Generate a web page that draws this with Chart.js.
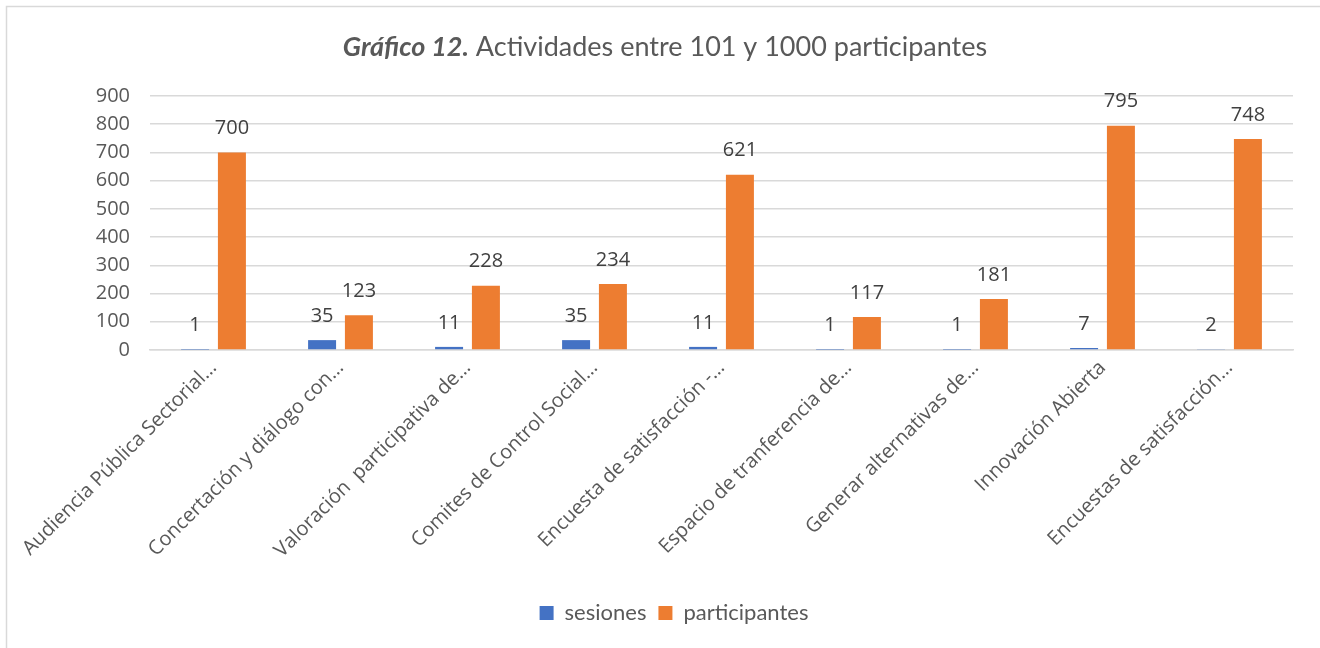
<!DOCTYPE html>
<html>
<head>
<meta charset="utf-8">
<script src="https://cdn.jsdelivr.net/npm/chart.js@4.4.1/dist/chart.umd.min.js"></script>
<style>
  html, body { margin: 0; padding: 0; background: #fff; }
  #wrap { position: relative; width: 1320px; height: 648px; }
</style>
</head>
<body>
<div id="wrap"><canvas id="grafico12"></canvas></div>
<script>
const categorias = [
    'Audiencia Pública Sectorial…',
    'Concertación y diálogo con…',
    'Valoración  participativa de…',
    'Comites de Control Social…',
    'Encuesta de satisfacción -…',
    'Espacio de tranferencia de…',
    'Generar alternativas de…',
    'Innovación Abierta',
    'Encuestas de satisfacción…'
];
const sesiones      = [1, 35, 11, 35, 11, 1, 1, 7, 2];
const participantes = [700, 123, 228, 234, 621, 117, 181, 795, 748];
const tituloNegrita = 'Gráfico 12.';
const tituloResto   = ' Actividades entre 101 y 1000 participantes';

const grisTexto = '#595959';

// marco gris alrededor del gráfico + título con dos estilos
const marcoYTitulo = {
    id: 'marcoYTitulo',
    beforeDraw(chart) {
        const c = chart.ctx;
        c.save();
        c.fillStyle = '#fff';
        c.fillRect(0, 0, chart.width, chart.height);
        c.strokeStyle = '#d9d9d9';
        c.lineWidth = 1.5;
        c.strokeRect(6.5, 6.5, chart.width + 10, chart.height + 10);
        c.restore();
    },
    afterDraw(chart) {
        const c = chart.ctx;
        c.save();
        c.fillStyle = grisTexto;
        c.textBaseline = 'middle';
        const fB = 'italic bold 27px Lato';
        const fN = '27px Lato';
        c.font = fB;
        const w1 = c.measureText(tituloNegrita).width;
        c.font = fN;
        const w2 = c.measureText(tituloResto).width;
        let x = 665 - (w1 + w2) / 2;
        c.textAlign = 'left';
        c.font = fB;
        c.fillText(tituloNegrita, x, 47);
        c.font = fN;
        c.fillText(tituloResto, x + w1, 47);
        c.restore();
    }
};

// valores encima de cada barra
const etiquetasValor = {
    id: 'etiquetasValor',
    afterDatasetsDraw(chart) {
        const c = chart.ctx;
        c.save();
        c.font = '20px "Open Sans"';
        c.fillStyle = '#404040';
        c.textAlign = 'center';
        c.textBaseline = 'bottom';
        chart.data.datasets.forEach((ds, i) => {
            chart.getDatasetMeta(i).data.forEach((bar, j) => {
                c.fillText(String(ds.data[j]), bar.x, bar.y - 14);
            });
        });
        c.restore();
    }
};

function dibujar() {
    new Chart(document.getElementById('grafico12'), {
        type: 'bar',
        data: {
            labels: categorias,
            datasets: [
                {
                    label: 'sesiones',
                    data: sesiones,
                    backgroundColor: '#4472c4',
                    barPercentage: 0.76,
                    categoryPercentage: 0.58
                },
                {
                    label: 'participantes',
                    data: participantes,
                    backgroundColor: '#ed7d31',
                    barPercentage: 0.76,
                    categoryPercentage: 0.58
                }
            ]
        },
        options: {
            responsive: true,
            maintainAspectRatio: false,
            animation: false,
            layout: { padding: { top: 96, right: 27, left: 55, bottom: 14 } },
            plugins: {
                legend: {
                    position: 'bottom',
                    labels: {
                        boxWidth: 14,
                        boxHeight: 14,
                        padding: 12,
                        color: grisTexto,
                        font: { family: 'Lato', size: 22 }
                    }
                },
                tooltip: { enabled: false }
            },
            scales: {
                x: {
                    grid: { display: false, drawTicks: false },
                    border: { color: '#d9d9d9', width: 1.5 },
                    afterFit(scale) { scale.height = 240; },
                    ticks: {
                        autoSkip: false,
                        maxRotation: 45,
                        minRotation: 45,
                        padding: 6,
                        labelOffset: 0,
                        color: grisTexto,
                        font: { family: '"Open Sans"', size: 20 }
                    }
                },
                y: {
                    min: 0,
                    max: 900,
                    afterFit(scale) { scale.width = 95; },
                    grid: { color: '#d9d9d9', lineWidth: 1.5, drawTicks: false },
                    border: { display: false },
                    ticks: {
                        stepSize: 100,
                        padding: 20,
                        color: grisTexto,
                        font: { family: '"Open Sans"', size: 20 }
                    }
                }
            }
        },
        plugins: [marcoYTitulo, etiquetasValor]
    });
}

Promise.all([
    document.fonts.load('20px "Open Sans"'),
    document.fonts.load('22px Lato'),
    document.fonts.load('italic bold 27px Lato')
]).then(dibujar, dibujar);
</script>
</body>
</html>
